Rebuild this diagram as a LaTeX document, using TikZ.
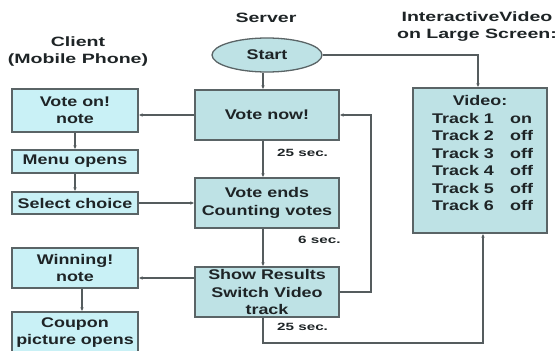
\documentclass[tikz,border=0pt]{standalone}
\usepackage{fontspec}
\setmainfont{Liberation Sans}[FakeStretch=1.28]
\newfontfamily\widefont{Liberation Sans}[FakeStretch=1.45]
\usetikzlibrary{arrows.meta,shapes.geometric}

\definecolor{srvfill}{HTML}{BEE2E5}
\definecolor{clifill}{HTML}{C9F1F6}
\definecolor{edgegray}{HTML}{5A6466}
\definecolor{linegray}{HTML}{555C5E}
\definecolor{txt}{HTML}{1E2426}

\tikzset{
  boxtext/.style={font=\fontsize{14}{17.5}\selectfont\bfseries, text=txt, align=center},
  srvbox/.style={boxtext, draw=edgegray, line width=1.3pt, fill=srvfill,
    minimum width=144pt, minimum height=50pt, inner sep=0pt},
  clibox/.style={boxtext, draw=edgegray, line width=1.3pt, fill=clifill,
    minimum width=126pt, inner sep=0pt},
  title/.style={font=\widefont\fontsize{13.5}{17}\selectfont\bfseries, text=txt, align=center},
  delay/.style={font=\widefont\fontsize{10.5}{12}\selectfont\bfseries, text=txt, anchor=west, inner sep=0pt},
  trk/.style={font=\fontsize{14}{17}\selectfont\bfseries, text=txt, anchor=base west, inner sep=0pt},
  arr/.style={draw=linegray, line width=1.1pt, -{Latex[length=4pt,width=3.6pt]}},
  ln/.style={draw=linegray, line width=1.1pt}
}

\begin{document}
\begin{tikzpicture}[x=1pt,y=-1pt]
\useasboundingbox (0,0) rectangle (560,351);
\fill[white] (0,0) rectangle (560,351);

% column titles
\node[title] (tsrv) at (266,18) {Server};
\node[title] (tcli) at (78,52) {Client\\(Mobile Phone)};
\node[title] (tvid) at (477,27) {InteractiveVideo\\on Large Screen:};

% server column
\node[srvbox, ellipse, minimum width=110pt, minimum height=34pt] (start) at (267,55) {Start};
\node[srvbox] (votenow) at (267,115) {Vote now!};
\node[srvbox] (voteends) at (267,203) {Vote ends\\Counting votes};
\node[srvbox] (showres) at (267,292) {Show Results\\Switch Video\\track};

% client column
\node[clibox, minimum height=43pt] (voteon) at (75,110.5) {Vote on!\\note};
\node[clibox, minimum height=23pt] (menu) at (75,161.5) {Menu opens};
\node[clibox, minimum height=22pt] (select) at (75,203) {Select choice};
\node[clibox, minimum height=40pt] (winning) at (75,268) {Winning!\\note};
\node[clibox, minimum height=41pt] (coupon) at (75,332.5) {Coupon\\picture opens};

% video screen
\node[srvbox, minimum width=134pt, minimum height=145pt] (video) at (480,160.5) {};
\node[boxtext, inner sep=0pt, anchor=base] (vidhead) at (480,105) {Video:};
\foreach \i/\s [evaluate=\i as \yy using 123+17.5*(\i-1)] in {1/on,2/off,3/off,4/off,5/off,6/off}{
  \node[trk] (tr\i) at (432,\yy) {Track \i};
  \node[trk] (st\i) at (510,\yy) {\s};
}

% helper points for the routed connectors
\coordinate (axis) at (263,0);
\coordinate (loopR) at (371,0);
\coordinate (bot) at (263,343);

% server flow
\draw[arr] (start.south -| axis) -- (votenow.north -| axis);
\draw[arr] (votenow.south -| axis) -- (voteends.north -| axis);
\draw[arr] (voteends.south -| axis) -- (showres.north -| axis);
\draw[arr] (showres.east) -- (showres.east -| loopR) |- (votenow.east);
\draw[arr] (showres.south -| axis) -- (bot) -| ([xshift=3pt]video.south);
\draw[arr] (start.east) -| ([xshift=-2pt]video.north);

% server to client
\draw[arr] (votenow.west) -- (votenow.west -| voteon.east);
\draw[arr] ([yshift=-10pt]winning.east -| showres.west) -- ([yshift=-10pt]winning.east);

% client flow
\draw[arr] (voteon.south) -- (menu.north);
\draw[arr] (menu.south) -- (select.north);
\draw[arr] (select.east) -- (select.east -| voteends.west);
\draw[arr] ([xshift=7pt]winning.south) -- ([xshift=7pt]coupon.north);

% timing labels
\node[delay] (d1) at (277,153) {25 sec.};
\node[delay] (d2) at (298,240) {6 sec.};
\node[delay] (d3) at (277,327) {25 sec.};
\end{tikzpicture}
\end{document}
